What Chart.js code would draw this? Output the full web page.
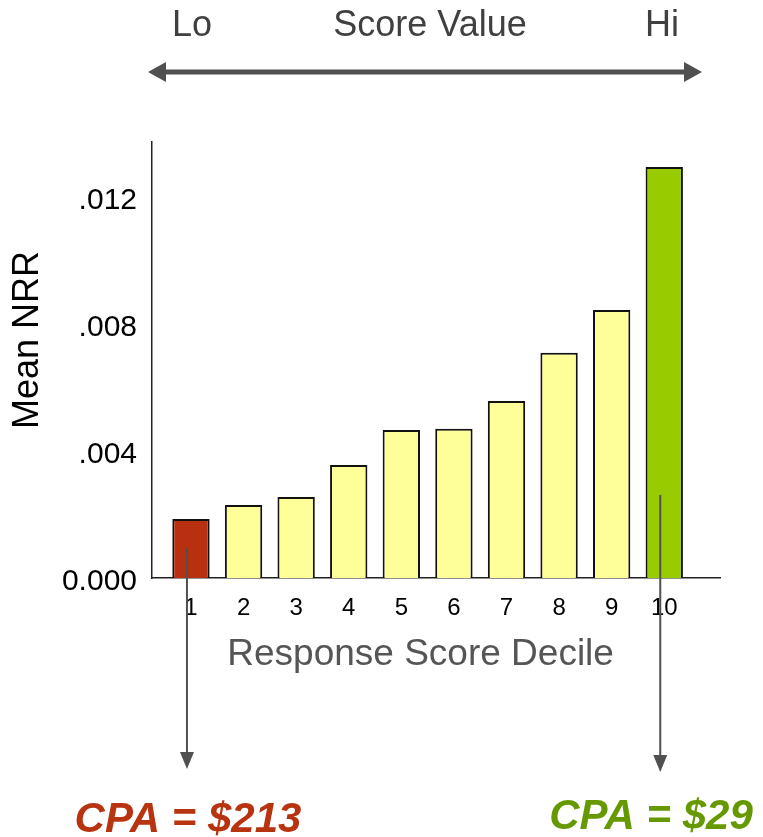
<!DOCTYPE html>
<html>
<head>
<meta charset="utf-8">
<script src="https://cdn.jsdelivr.net/npm/chart.js@4.4.1/dist/chart.umd.min.js"></script>
<style>
  html, body { margin: 0; padding: 0; background: #fff; }
</style>
</head>
<body>
<canvas id="barChart" width="763" height="837"></canvas>
<script>
// data
const deciles = [1, 2, 3, 4, 5, 6, 7, 8, 9, 10];
const meanNrr = [0.00186, 0.0023, 0.00255, 0.00356, 0.00466, 0.0047, 0.00557, 0.00709, 0.00844, 0.01294];
const barColors = ['#B8300F', '#FFFF99', '#FFFF99', '#FFFF99', '#FFFF99', '#FFFF99', '#FFFF99', '#FFFF99', '#FFFF99', '#99CC00'];
const yTicks = [0, 0.004, 0.008, 0.012];
const yTickLabels = ['0.000', '.004', '.008', '.012'];
const scoreLabels = ['Lo', 'Score Value', 'Hi'];
const cpaDeciles = [1, 10];
const cpaLabels = ['CPA = $213', 'CPA = $29'];
const cpaColors = ['#B8330F', '#669900'];

const FONT = '"Liberation Sans", Arial, sans-serif';

// draws the arrows and side texts around the plot
const annotate = {
    id: 'annotate',
    afterDraw(chart) {
        const ctx = chart.ctx;
        const meta = chart.getDatasetMeta(0);
        ctx.save();

        // Lo / Score Value / Hi
        ctx.fillStyle = '#404040';
        ctx.font = '36px ' + FONT;
        ctx.textAlign = 'center';
        ctx.textBaseline = 'middle';
        const tx = [192, 430, 662];
        scoreLabels.forEach((t, i) => ctx.fillText(t, tx[i], 26));

        // double headed arrow
        ctx.strokeStyle = '#505050';
        ctx.fillStyle = '#505050';
        ctx.lineWidth = 5;
        ctx.beginPath();
        ctx.moveTo(160, 72);
        ctx.lineTo(690, 72);
        ctx.stroke();
        ctx.beginPath();
        ctx.moveTo(148, 72); ctx.lineTo(166, 62); ctx.lineTo(166, 82); ctx.closePath();
        ctx.fill();
        ctx.beginPath();
        ctx.moveTo(702, 72); ctx.lineTo(684, 62); ctx.lineTo(684, 82); ctx.closePath();
        ctx.fill();

        // down arrows from first / last bar
        const starts = [548, 495];
        const tips = [769, 772];
        ctx.lineWidth = 2;
        cpaDeciles.forEach((d, i) => {
            const bar = meta.data[deciles.indexOf(d)];
            const x = bar.x - 4;
            ctx.beginPath();
            ctx.moveTo(x, starts[i]);
            ctx.lineTo(x, tips[i] - 14);
            ctx.stroke();
            ctx.beginPath();
            ctx.moveTo(x, tips[i]);
            ctx.lineTo(x - 7, tips[i] - 17);
            ctx.lineTo(x + 7, tips[i] - 17);
            ctx.closePath();
            ctx.fill();
        });

        // CPA texts
        ctx.font = 'italic bold 42px ' + FONT;
        ctx.textBaseline = 'alphabetic';
        const cx = [188, 651];
        const cy = [832, 829];
        cpaLabels.forEach((t, i) => {
            ctx.fillStyle = cpaColors[i];
            ctx.fillText(t, cx[i], cy[i]);
        });

        ctx.restore();
    }
};

const ctx = document.getElementById('barChart');

new Chart(ctx, {
    type: 'bar',
    data: {
        datasets: [{
            data: deciles.map((d, i) => ({ x: d, y: meanNrr[i] })),
            backgroundColor: barColors,
            borderColor: '#111',
            borderWidth: 2,
            barPercentage: 0.71,
            categoryPercentage: 1.0,
        }]
    },
    options: {
        responsive: false,
        animation: false,
        layout: {
            padding: { top: 142, right: 43, bottom: 160, left: 0 }
        },
        plugins: {
            legend: { display: false },
            tooltip: { enabled: false },
        },
        scales: {
            x: {
                type: 'linear',
                offset: false,
                min: 0.259,
                max: 11.06,
                afterFit: (s) => { s.height = 99; },
                afterBuildTicks: (s) => { s.ticks = deciles.map(v => ({ value: v })); },
                grid: { display: false, drawTicks: false },
                border: { display: true, color: '#222', width: 1.5 },
                ticks: {
                    padding: 16,
                    color: '#000',
                    font: { family: FONT, size: 24 },
                    callback: (v) => String(v),
                },
                title: {
                    display: true,
                    text: 'Response Score Decile\u00A0\u00A0\u00A0',
                    color: '#555',
                    font: { family: FONT, size: 37 },
                    padding: { top: 0, bottom: 0 },
                }
            },
            y: {
                min: 0,
                max: 0.01373,
                afterFit: (s) => { s.width = 152; },
                afterBuildTicks: (s) => { s.ticks = yTicks.map(v => ({ value: v })); },
                grid: { display: false, drawTicks: false },
                border: { display: true, color: '#222', width: 1.5 },
                ticks: {
                    padding: 15,
                    labelOffset: 4,
                    color: '#000',
                    font: { family: FONT, size: 30 },
                    callback: (v) => yTickLabels[yTicks.indexOf(v)],
                },
                title: {
                    display: true,
                    text: '\u00A0\u00A0\u00A0\u00A0Mean NRR',
                    color: '#000',
                    font: { family: FONT, size: 36 },
                    padding: { top: 6, bottom: 0 },
                }
            }
        }
    },
    plugins: [annotate]
});
</script>
</body>
</html>
